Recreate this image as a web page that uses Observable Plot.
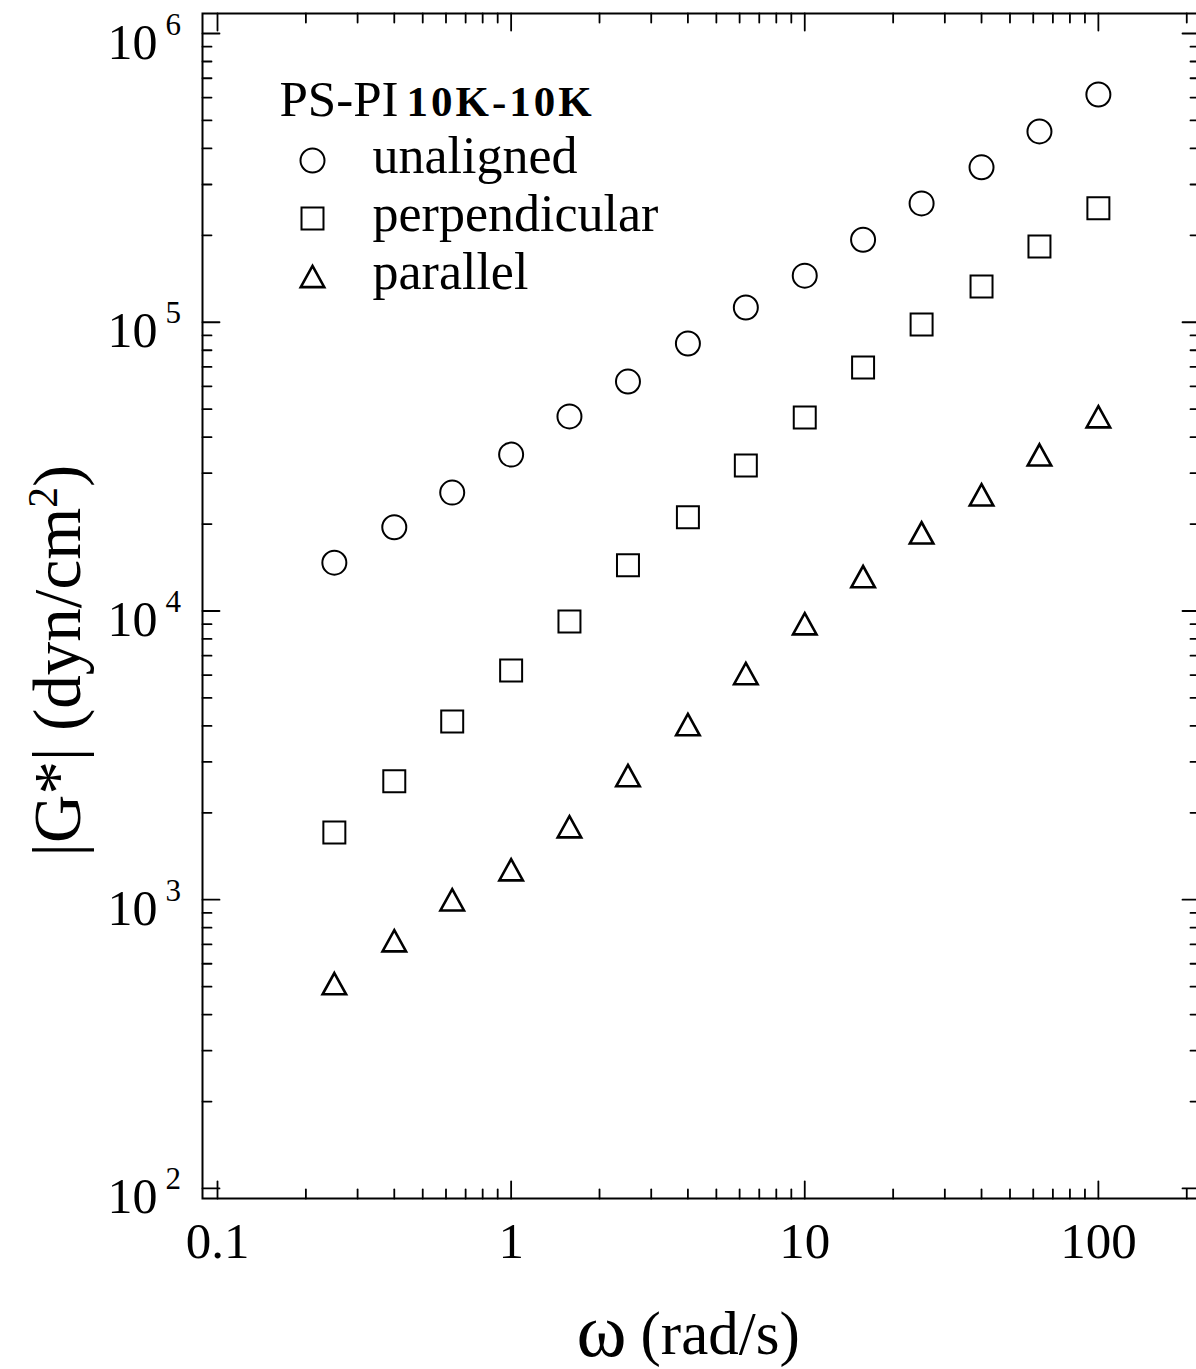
<!DOCTYPE html>
<html>
<head>
<meta charset="utf-8">
<script src="https://cdn.jsdelivr.net/npm/d3@7"></script>
<script src="https://cdn.jsdelivr.net/npm/@observablehq/plot@0.6"></script>
<style>
  html, body { margin: 0; padding: 0; overflow: hidden; background: #fff; }
</style>
</head>
<body>
<div id="chart"></div>
<script>
// ---- data ----
const omega = [0.25, 0.4, 0.63, 1, 1.58, 2.5, 4, 6.3, 10, 15.8, 25, 40, 63, 100];
const unaligned = [14700, 19500, 25700, 34800, 47200, 62300, 84400, 112500, 145000, 193000, 258000, 344000, 458000, 615000];
const perpendicular = [1710, 2570, 4140, 6220, 9200, 14400, 21100, 31900, 46800, 69700, 98200, 133000, 183000, 248000];
const parallel = [512, 721, 999, 1270, 1790, 2690, 4040, 6070, 9030, 13150, 18640, 25240, 34710, 47070];
const seriesNames = ["unaligned", "perpendicular", "parallel"];
const xMajor = [0.1, 1, 10, 100];
const xTickLabels = ["0.1", "1", "10", "100"];
const yMajor = [1e2, 1e3, 1e4, 1e5, 1e6];
const yTickBase = ["10", "10", "10", "10", "10"];
const yTickExp = ["2", "3", "4", "5", "6"];
const legendTitle = "PS-PI";
const legendSub = "10K-10K";
const xLabelSymbol = "ω";
const xLabelUnit = "(rad/s)";
const yLabelMain = "|G*| (dyn/cm";
const yLabelSup = "2";
const yLabelEnd = ")";

// ---- layout / style ----
const FONT = "'Liberation Serif', 'Times New Roman', Times, serif";
const W = 1199, H = 1369;
const M = {top: 13, right: 0, bottom: 171, left: 202};
const xDomain = [0.0889, 221];
const yDomain = [92.3, 1.173e6];

// minor tick positions (2..9 x each decade)
const xMinor = [];
for (const d of xMajor) for (let k = 2; k <= 9; k++) { const v = k * d; if (v >= xDomain[0] && v <= xDomain[1]) xMinor.push(v); }
const yMinor = [];
for (const d of yMajor) for (let k = 2; k <= 9; k++) { const v = k * d; if (v >= yDomain[0] && v <= yDomain[1]) yMinor.push(v); }

const tickShape = { draw(ctx, l) { ctx.moveTo(0, 0); ctx.lineTo(0, -l); } };
const triShape = { draw(ctx, size) {
  const r = Math.sqrt(size / Math.PI);
  const hw = 1.05 * r, hh = 0.95 * r;
  ctx.moveTo(0, -hh); ctx.lineTo(hw, hh); ctx.lineTo(-hw, hh); ctx.closePath();
}};

const series = [
  {name: seriesNames[0], values: unaligned, symbol: "circle", r: 12, sw: 2},
  {name: seriesNames[1], values: perpendicular, symbol: "square", r: 12.4, sw: 2},
  {name: seriesNames[2], values: parallel, symbol: triShape, r: 11.2, sw: 2.6}
];

function ticks(vals, ch, anchor, rot, len) {
  const o = {frameAnchor: anchor, rotate: rot, length: len, anchor: "start", shape: tickShape, stroke: "black", strokeWidth: 1.8};
  o[ch] = d => d;
  return Plot.vector(vals, o);
}

const marks = [
  Plot.frame({stroke: "black", strokeWidth: 2}),
  // inward ticks on all four sides
  ticks(xMajor, "x", "bottom", 0, 17), ticks(xMinor, "x", "bottom", 0, 9),
  ticks(xMajor, "x", "top", 180, 17), ticks(xMinor, "x", "top", 180, 9),
  ticks(yMajor, "y", "left", 90, 17), ticks(yMinor, "y", "left", 90, 9),
  ticks(yMajor, "y", "right", -90, 17), ticks(yMinor, "y", "right", -90, 9),
  // x tick labels
  Plot.text(xMajor, {x: d => d, text: (d, i) => xTickLabels[i], frameAnchor: "bottom", dy: 59,
    lineAnchor: "bottom", textAnchor: "middle", fontSize: 51, fontFamily: FONT, fill: "black"}),
  // y tick labels 10^n
  Plot.text(yMajor, {y: d => d, text: (d, i) => yTickBase[i], frameAnchor: "left", dx: -45, dy: 25,
    lineAnchor: "bottom", textAnchor: "end", fontSize: 50, fontFamily: FONT, fill: "black"}),
  Plot.text(yMajor, {y: d => d, text: (d, i) => yTickExp[i], frameAnchor: "left", dx: -37, dy: 1,
    lineAnchor: "bottom", textAnchor: "start", fontSize: 31, fontFamily: FONT, fill: "black"}),
  // x axis label
  Plot.text([xLabelSymbol], {text: d => d, frameAnchor: "bottom-left", dx: 601 - M.left, dy: 1355 - (H - M.bottom),
    lineAnchor: "bottom", textAnchor: "middle", fontSize: 76, fontFamily: FONT, fill: "black"}),
  Plot.text([xLabelUnit], {text: d => d, frameAnchor: "bottom-left", dx: 640 - M.left, dy: 1353 - (H - M.bottom),
    lineAnchor: "bottom", textAnchor: "start", fontSize: 61, fontFamily: FONT, fill: "black"}),
  // y axis label (superscript added after render)
  Plot.text([yLabelMain + yLabelSup + yLabelEnd], {text: d => d, frameAnchor: "left", dx: 58 - M.left, dy: 660 - (M.top + (H - M.bottom)) / 2,
    rotate: -90, lineAnchor: "middle", textAnchor: "middle", fontSize: 67, fontFamily: FONT, fill: "black"}),
  // legend title
  Plot.text([legendTitle], {text: d => d, frameAnchor: "top-left", dx: 77, dy: 102,
    lineAnchor: "bottom", textAnchor: "start", fontSize: 51, fontFamily: FONT, fill: "black"}),
  Plot.text([legendSub], {text: d => d, frameAnchor: "top-left", dx: 204, dy: 102,
    lineAnchor: "bottom", textAnchor: "start", fontSize: 43, fontWeight: "bold", fontFamily: FONT, fill: "black"})
];

series.forEach((s, k) => {
  marks.push(Plot.dot(omega, {x: d => d, y: (d, i) => s.values[i], symbol: s.symbol, r: s.r,
    stroke: "black", strokeWidth: s.sw, fill: "none"}));
  // legend row
  marks.push(Plot.dot([s.name], {frameAnchor: "top-left", dx: 110, dy: 147 + 58 * k, symbol: s.symbol, r: s.r,
    stroke: "black", strokeWidth: s.sw, fill: "none"}));
  marks.push(Plot.text([s.name], {text: d => d, frameAnchor: "top-left", dx: 170, dy: 159 + 58 * k,
    lineAnchor: "bottom", textAnchor: "start", fontSize: 52, fontFamily: FONT, fill: "black"}));
});

const chart = Plot.plot({
  width: W, height: H,
  marginTop: M.top, marginRight: M.right, marginBottom: M.bottom, marginLeft: M.left,
  style: {fontFamily: FONT, background: "white", color: "black", overflow: "visible", maxWidth: "none"},
  x: {type: "log", domain: xDomain, axis: null},
  y: {type: "log", domain: yDomain, axis: null},
  marks
});
chart.style.maxWidth = "none";
chart.style.width = W + "px";
chart.style.height = H + "px";
document.getElementById("chart").append(chart);

// superscript "2" in the y-axis label; wider tracking for the bold sample name
d3.select(chart).selectAll("text").each(function() {
  if (this.textContent === yLabelMain + yLabelSup + yLabelEnd) {
    const t = d3.select(this);
    t.text(null);
    t.append("tspan").text(yLabelMain);
    t.append("tspan").attr("dy", "-0.55em").attr("font-size", "0.62em").text(yLabelSup);
    t.append("tspan").attr("dy", "0.34em").text(yLabelEnd);
  }
  if (this.textContent === legendSub) d3.select(this).attr("letter-spacing", "3px");
});
</script>
</body>
</html>
